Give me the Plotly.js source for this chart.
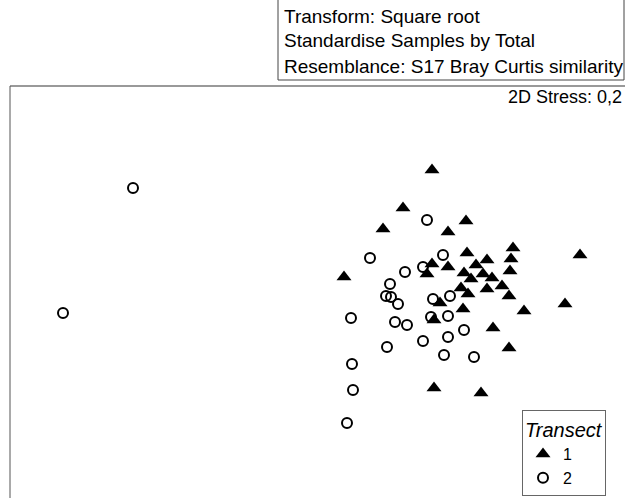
<!DOCTYPE html>
<html>
<head>
<meta charset="utf-8">
<script src="https://cdn.plot.ly/plotly-3.0.1.min.js"></script>
<style>html,body{margin:0;padding:0;background:#fff;}#chart{width:625px;height:498px;}</style>
</head>
<body>
<div id="chart"></div>
<script>
// NMDS ordination coordinates
const transect1X = [-0.08,-0.37,0.26,-0.57,0.08,-0.96,0.73,0.71,1.40,0.27,0.47,-0.08,-0.13,0.08,0.36,0.24,0.43,0.70,0.31,0.52,0.21,0.47,0.62,0.28,0.69,0.00,0.23,0.84,1.25,-0.06,0.53,0.69,-0.06,0.41];
const transect1Y = [1.20,0.82,0.69,0.61,0.58,0.13,0.42,0.31,0.35,0.37,0.30,0.26,0.16,0.23,0.25,0.17,0.16,0.19,0.11,0.12,0.02,0.01,0.04,-0.04,-0.06,-0.13,-0.19,-0.21,-0.14,-0.30,-0.38,-0.58,-0.98,-1.03];
const transect2X = [-3.07,-3.77,-0.13,-0.70,0.03,-0.35,-0.17,-0.50,-0.54,-0.49,-0.42,-0.07,0.10,-0.89,-0.09,0.08,-0.45,-0.33,0.24,-0.17,0.08,-0.53,0.04,0.34,-0.88,-0.87,-0.93];
const transect2Y = [1.02,-0.23,0.70,0.32,0.35,0.18,0.23,0.06,-0.06,-0.07,-0.14,-0.09,-0.06,-0.28,-0.27,-0.26,-0.32,-0.35,-0.40,-0.51,-0.47,-0.57,-0.65,-0.67,-0.74,-1.00,-1.33];
const seriesNames = ["1", "2"];
const legendTitle = "Transect";
const infoLines = ["Transform: Square root", "Standardise Samples by Total", "Resemblance: S17 Bray Curtis similarity"];
const stressText = "2D Stress: 0,2";

const FONT = "Liberation Sans, Arial, sans-serif";

const traces = [
  {x: transect1X, y: transect1Y, name: seriesNames[0], type: "scatter", mode: "markers",
   marker: {symbol: "triangle-up", size: 13, color: "#000"}},
  {x: transect2X, y: transect2Y, name: seriesNames[1], type: "scatter", mode: "markers",
   marker: {symbol: "circle-open", size: 10, color: "#000", line: {width: 2, color: "#000"}}}
];

// pixel -> paper helpers for decorations (plot area: x 10..625, y 86..498)
const px = v => (v - 10) / 615;
const py = v => (498 - v) / 412;

const annotations = infoLines.map((t, i) => ({
  text: t, xref: "paper", yref: "paper", x: px(282), y: py([17, 41, 66][i]),
  xanchor: "left", yanchor: "middle", showarrow: false,
  font: {family: FONT, size: 19, color: "#000"}
}));
annotations.push({
  text: stressText, xref: "paper", yref: "paper", x: px(624), y: py(97),
  xanchor: "right", yanchor: "middle", showarrow: false,
  font: {family: FONT, size: 18, color: "#000"}
});

const layout = {
  width: 625, height: 498,
  margin: {l: 10, r: 0, t: 86, b: 0, pad: 0, autoexpand: false},
  paper_bgcolor: "#fff", plot_bgcolor: "#fff",
  font: {family: FONT, color: "#000"},
  xaxis: {range: [-4.30, 1.85], showgrid: false, zeroline: false, showticklabels: false, ticks: "", showline: false, fixedrange: true},
  yaxis: {range: [-2.08, 2.04], showgrid: false, zeroline: false, showticklabels: false, ticks: "", showline: false, fixedrange: true},
  showlegend: true,
  legend: {
    x: px(522), y: py(410), xanchor: "left", yanchor: "top",
    bgcolor: "#fff", bordercolor: "#666", borderwidth: 1,
    font: {family: FONT, size: 16, color: "#000"},
    title: {text: "<i>" + legendTitle + "</i>", font: {family: FONT, size: 20, color: "#000"}},
    itemwidth: 30, tracegroupgap: 0
  },
  shapes: [
    {type: "line", xref: "paper", yref: "paper", x0: 0, x1: 1, y0: 1, y1: 1, line: {color: "#999", width: 2}},
    {type: "line", xref: "paper", yref: "paper", x0: 0, x1: 0, y0: 0, y1: 1, line: {color: "#555", width: 1}},
    {type: "rect", xref: "paper", yref: "paper", x0: px(278), x1: px(624), y0: py(80), y1: py(-2), line: {color: "#444", width: 1}, fillcolor: "rgba(0,0,0,0)"}
  ],
  annotations: annotations
};

Plotly.newPlot("chart", traces, layout, {displayModeBar: false, staticPlot: true});
</script>
</body>
</html>
